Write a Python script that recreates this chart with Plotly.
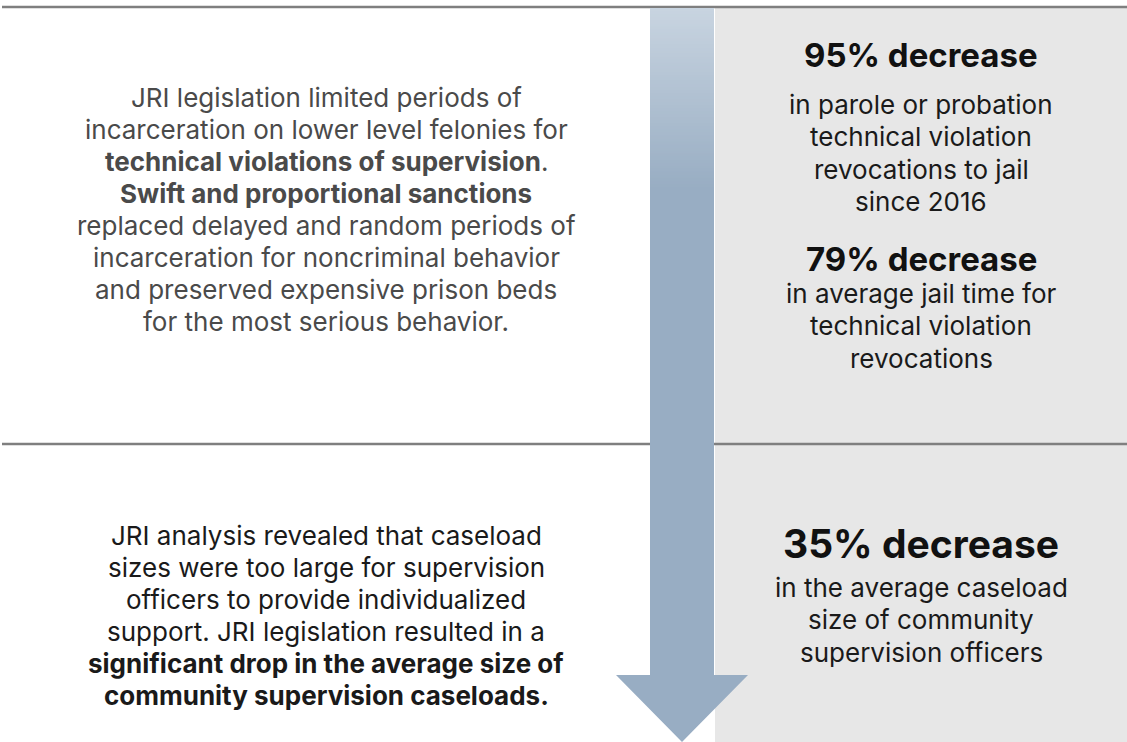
import plotly.graph_objects as go

W, H = 1127, 742

# Text content
left_top_lines = [
    "JRI legislation limited periods of",
    "incarceration on lower level felonies for",
    "<b>technical violations of supervision</b>.",
    "<b>Swift and proportional sanctions</b>",
    "replaced delayed and random periods of",
    "incarceration for noncriminal behavior",
    "and preserved expensive prison beds",
    "for the most serious behavior.",
]
left_bottom_lines = [
    "JRI analysis revealed that caseload",
    "sizes were too large for supervision",
    "officers to provide individualized",
    "support. JRI legislation resulted in a",
    "<b>significant drop in the average size of</b>",
    "<b>community supervision caseloads.</b>",
]
stat_headlines = ["95% decrease", "79% decrease", "35% decrease"]
stat_details = [
    ["in parole or probation", "technical violation", "revocations to jail", "since 2016"],
    ["in average jail time for", "technical violation", "revocations"],
    ["in the average caseload", "size of community", "supervision officers"],
]

FONT = "Inter, Roboto, Arial, sans-serif"

fig = go.Figure()
shapes = []

# right grey panel
shapes.append(dict(type="rect", x0=715, x1=W, y0=8, y1=H, fillcolor="#e7e7e7",
                   line=dict(width=0), layer="below"))
# separator lines
shapes.append(dict(type="line", x0=2, x1=W, y0=7, y1=7, line=dict(color="#7f7f7f", width=2.5)))
shapes.append(dict(type="line", x0=2, x1=W, y0=444, y1=444, line=dict(color="#7f7f7f", width=2.5)))

# arrow with gradient in upper part
c_top = (200, 212, 224)
c_bot = (152, 173, 195)
steps = 60
g_top, g_bot = 8, 190
for i in range(steps):
    y0 = g_top + (g_bot - g_top) * i / steps
    y1 = g_top + (g_bot - g_top) * (i + 1) / steps + 2
    t = i / (steps - 1)
    col = tuple(round(c_top[k] + (c_bot[k] - c_top[k]) * t) for k in range(3))
    shapes.append(dict(type="rect", x0=650, x1=714, y0=y0, y1=y1,
                       fillcolor="rgb(%d,%d,%d)" % col, line=dict(width=0)))
shapes.append(dict(type="path",
                   path="M 650 190 L 714 190 L 714 675 L 748 675 L 682 742 L 616 675 L 650 675 Z",
                   fillcolor="rgb(152,173,195)", line=dict(width=0)))

annotations = []

def add_line(text, x, y, size, color, bold=False):
    if bold:
        text = "<b>" + text + "</b>"
    annotations.append(dict(x=x, y=y, xref="x", yref="y", text=text, showarrow=False,
                            xanchor="center", yanchor="middle",
                            font=dict(family=FONT, size=size, color=color)))

BODY = 26

# left top block
y = 97
for ln in left_top_lines:
    add_line(ln, 326, y, BODY, "#4a4a4a")
    y += 32.1

# left bottom block
y = 535
for ln in left_bottom_lines:
    add_line(ln, 326, y, BODY, "#1a1a1a")
    y += 32

# right stats
head_y = [55, 259, 543]
head_size = [33, 33, 39]
detail_y0 = [104, 293, 587]
for h, hy, hs, dets, dy in zip(stat_headlines, head_y, head_size, stat_details, detail_y0):
    add_line(h, 921, hy, hs, "#111111", bold=True)
    y = dy
    for d in dets:
        add_line(d, 921, y, BODY, "#1a1a1a")
        y += 32.5

fig.update_layout(
    width=W, height=H,
    margin=dict(l=0, r=0, t=0, b=0),
    paper_bgcolor="white", plot_bgcolor="white",
    xaxis=dict(range=[0, W], visible=False, fixedrange=True),
    yaxis=dict(range=[H, 0], visible=False, fixedrange=True),
    shapes=shapes, annotations=annotations, showlegend=False,
)
fig.write_html("out.html", config={"displayModeBar": False},
               post_script="document.body.style.margin='0';document.body.style.overflow='hidden';")
